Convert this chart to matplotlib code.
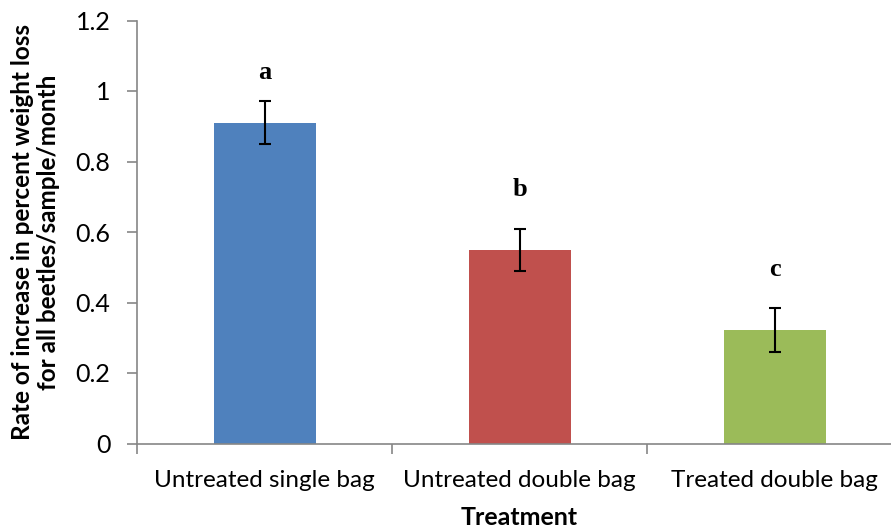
import matplotlib
matplotlib.use("Agg")
import matplotlib.pyplot as plt

categories = ["Untreated single bag", "Untreated double bag", "Treated double bag"]
rates = [0.91, 0.548, 0.321]
errors = [0.061, 0.06, 0.062]
letters = ["a", "b", "c"]
letter_y = [1.052, 0.72, 0.494]
colors = ["#4F81BD", "#C0504D", "#9BBB59"]

plt.rcParams["font.family"] = ["Lato", "DejaVu Sans"]

fig = plt.figure(figsize=(8.91, 5.28), dpi=100)
ax = fig.add_axes([137 / 891, 1 - 443.5 / 528, 765 / 891, 423 / 528])

x = range(len(categories))
ax.bar(x, rates, width=0.4, color=colors, zorder=2)
ax.errorbar(x, rates, yerr=errors, fmt="none", ecolor="black",
            elinewidth=1.5, capsize=4.5, capthick=1.5, zorder=3)
for xi, lab, ly in zip(x, letters, letter_y):
    ax.text(xi, ly, lab, ha="center", va="center", fontsize=19,
            fontweight="bold", family="Liberation Serif")

ax.set_xlim(-0.5, 2.5)
ax.set_ylim(0, 1.2)
ax.set_yticks([0, 0.2, 0.4, 0.6, 0.8, 1.0, 1.2])
ax.set_yticklabels(["0", "0.2", "0.4", "0.6", "0.8", "1", "1.2"])
ax.set_xticks(list(x))
ax.set_xticklabels(categories)
ax.set_xticks([-0.5, 0.5, 1.5, 2.5], minor=True)
ax.tick_params(axis="x", which="major", length=0, pad=19, labelsize=17.5)
ax.tick_params(axis="x", which="minor", length=7, width=1.2, color="#868686")
ax.tick_params(axis="y", length=7, width=1.2, color="#868686", labelsize=18, pad=12)

for s in ["top", "right"]:
    ax.spines[s].set_visible(False)
for s in ["left", "bottom"]:
    ax.spines[s].set_color("#868686")
    ax.spines[s].set_linewidth(1.2)

ax.set_xlabel("Treatment", fontsize=18, fontweight="bold", labelpad=11)
ax.set_ylabel("Rate of increase in percent weight loss\nfor all beetles/sample/month",
              fontsize=17.5, fontweight="bold", labelpad=11)

fig.savefig("out.png", dpi=100)
